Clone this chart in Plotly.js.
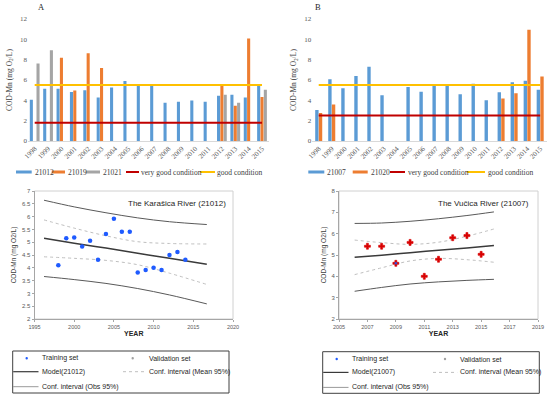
<!DOCTYPE html>
<html><head><meta charset="utf-8">
<script src="https://cdn.plot.ly/plotly-3.0.1.min.js"></script>
<style>html,body{margin:0;padding:0;background:#fff}#chart{width:550px;height:396px}</style>
</head><body><div id="chart"></div>
<script>
// ---------- DATA ----------
const years = ['1998','1999','2000','2001','2002','2003','2004','2005','2006','2007','2008','2009','2010','2011','2012','2013','2014','2015'];
// Panel A (Karašica stations)
const a21012 = [4.05,5.13,5.13,4.81,5.00,4.28,5.26,5.89,5.43,5.46,3.76,3.86,3.99,3.86,4.45,4.55,4.28,5.43];
const a21019 = [null,null,8.18,4.97,8.63,7.19,null,null,null,null,null,null,null,null,5.49,3.47,10.07,4.32];
const a21021 = [7.62,8.93,null,null,null,null,null,null,null,null,null,null,null,null,4.55,3.76,null,5.04];
const aVeryGood = 1.8, aGood = 5.5;
// Panel B (Vučica stations)
const b21007 = [3.04,6.08,5.20,6.40,7.30,4.50,null,5.30,4.84,5.43,5.43,4.60,5.62,4.00,4.80,5.79,5.92,5.04];
const b21020 = [2.75,3.60,null,null,null,null,null,null,null,null,null,null,null,null,4.19,4.70,10.95,6.34];
const bVeryGood = 2.5, bGood = 5.5;
// Panel C (Karašica model 21012)
const cYears = [1998,1999,2000,2001,2002,2003,2004,2005,2006,2007,2008,2009,2010,2011,2012,2013,2014];
const cValues = [4.10,5.15,5.18,4.83,5.06,4.31,5.32,5.92,5.41,5.41,3.82,3.91,4.00,3.91,4.50,4.62,4.31];
const cBandX = [1996.2,2000,2004,2008,2012,2016.7];
const cModel = [5.15,4.96,4.77,4.57,4.37,4.14];
const cObsUp = [6.64,6.38,6.15,5.95,5.80,5.69];
const cObsLo = [3.66,3.54,3.39,3.19,2.94,2.59];
const cMeanUp = [5.87,5.55,5.25,5.02,4.95,4.93];
const cMeanLo = [4.43,4.37,4.29,4.12,3.79,3.35];
// Panel D (Vučica model 21007)
const dYears = [2007,2008,2009,2010,2011,2012,2013,2014,2015];
const dValues = [5.41,5.41,4.61,5.59,4.00,4.80,5.81,5.91,5.03];
const dMarkedYears = [2009];
const dMarkedValues = [4.61];
const dBandX = [2006.1,2008,2010,2012,2014,2015.9];
const dModel = [4.89,4.99,5.11,5.22,5.33,5.44];
const dObsUp = [6.48,6.50,6.58,6.70,6.85,7.02];
const dObsLo = [3.30,3.48,3.64,3.74,3.81,3.86];
const dMeanUp = [5.70,5.58,5.50,5.60,5.88,6.22];
const dMeanLo = [4.08,4.40,4.72,4.84,4.78,4.66];

// ---------- STYLE ----------
const W = 550, H = 396;
const X = px => px / W;
const Y = py => 1 - py / H;
const BLUE = '#5B9BD5', ORANGE = '#ED7D31', GRAY = '#A5A5A5', RED = '#C00000', YELLOW = '#FFC000';
const SERIF = 'Liberation Serif, Times New Roman, serif';
const SANS = 'Liberation Sans, Arial, sans-serif';

const traces = [];
// Panel A bars
traces.push({type:'bar', x:years, y:a21012, name:'21012', marker:{color:BLUE}, width:0.23, offset:-0.365, xaxis:'x', yaxis:'y'});
traces.push({type:'bar', x:years, y:a21019, name:'21019', marker:{color:ORANGE}, width:0.23, offset:-0.115, xaxis:'x', yaxis:'y'});
traces.push({type:'bar', x:years, y:a21021, name:'21021', marker:{color:GRAY}, width:0.23, offset:0.135, xaxis:'x', yaxis:'y'});
traces.push({type:'scatter', mode:'lines', x:years, y:years.map(()=>aVeryGood), line:{color:RED, width:2}, xaxis:'x', yaxis:'y'});
traces.push({type:'scatter', mode:'lines', x:years, y:years.map(()=>aGood), line:{color:YELLOW, width:2}, xaxis:'x', yaxis:'y'});
// Panel B bars
traces.push({type:'bar', x:years, y:b21007, name:'21007', marker:{color:BLUE}, width:0.26, offset:-0.27, xaxis:'x2', yaxis:'y2'});
traces.push({type:'bar', x:years, y:b21020, name:'21020', marker:{color:ORANGE}, width:0.26, offset:0.01, xaxis:'x2', yaxis:'y2'});
traces.push({type:'scatter', mode:'lines', x:years, y:years.map(()=>bVeryGood), line:{color:RED, width:2}, xaxis:'x2', yaxis:'y2'});
traces.push({type:'scatter', mode:'lines', x:years, y:years.map(()=>bGood), line:{color:YELLOW, width:2}, xaxis:'x2', yaxis:'y2'});
// Panel C
const bandC = (y, line) => ({type:'scatter', mode:'lines', x:cBandX, y:y, line:Object.assign({shape:'spline'}, line), xaxis:'x3', yaxis:'y3'});
traces.push(bandC(cObsUp, {color:'#595959', width:1}));
traces.push(bandC(cObsLo, {color:'#595959', width:1}));
traces.push(bandC(cMeanUp, {color:'#BFBFBF', width:1, dash:'dot'}));
traces.push(bandC(cMeanLo, {color:'#BFBFBF', width:1, dash:'dot'}));
traces.push(bandC(cModel, {color:'#3A3A3A', width:1.5}));
traces.push({type:'scatter', mode:'markers', x:cYears, y:cValues, marker:{color:'#1F5BFF', size:4.5}, xaxis:'x3', yaxis:'y3'});
// Panel D
const bandD = (y, line) => ({type:'scatter', mode:'lines', x:dBandX, y:y, line:Object.assign({shape:'spline'}, line), xaxis:'x4', yaxis:'y4'});
traces.push(bandD(dObsUp, {color:'#595959', width:1}));
traces.push(bandD(dObsLo, {color:'#595959', width:1}));
traces.push(bandD(dMeanUp, {color:'#BFBFBF', width:1, dash:'dot'}));
traces.push(bandD(dMeanLo, {color:'#BFBFBF', width:1, dash:'dot'}));
traces.push(bandD(dModel, {color:'#3A3A3A', width:1.5}));
traces.push({type:'scatter', mode:'markers', x:dYears, y:dValues, marker:{color:'#D80000', size:5, symbol:'cross', line:{color:'#D80000', width:0.6}}, xaxis:'x4', yaxis:'y4'});
traces.push({type:'scatter', mode:'markers', x:dMarkedYears, y:dMarkedValues, marker:{color:'#3050E0', size:2.5}, xaxis:'x4', yaxis:'y4'});

// ---------- LAYOUT ----------
const tickSerif = {family:SERIF, size:7, color:'#595959'};
const tickSans = {family:SANS, size:5.5, color:'#595959'};
const barX = (dom) => ({domain:dom, type:'category', categoryorder:'array', categoryarray:years, tickangle:-45,
  tickfont:tickSerif, showline:true, linecolor:'#D9D9D9', linewidth:1, ticks:'', showgrid:false, zeroline:false, fixedrange:true});
const barY = (dom, anchor) => ({domain:dom, anchor:anchor, range:[0,12], dtick:2, tickfont:tickSerif, showgrid:false, zeroline:false, showline:false,
  title:{text:'COD-Mn (mg O<sub>2</sub>/L)', font:{family:SERIF, size:7.5, color:'#404040'}, standoff:6}, fixedrange:true});
const scX = (dom, range, tick0, dtick) => ({domain:dom, range:range, tick0:tick0, dtick:dtick, tickfont:tickSans, ticks:'outside', ticklen:2, tickcolor:'#A6A6A6',
  showline:true, linecolor:'#A6A6A6', linewidth:1, showgrid:false, zeroline:false,
  title:{text:'<b>YEAR</b>', font:{family:SANS, size:7, color:'#262626'}, standoff:2}, fixedrange:true});
const scY = (dom, range, dtick) => ({domain:dom, range:range, dtick:dtick, tickfont:{family:SANS, size:6, color:'#595959'}, ticks:'outside', ticklen:2, tickcolor:'#A6A6A6',
  showline:true, linecolor:'#A6A6A6', linewidth:1, showgrid:false, zeroline:false,
  title:{text:'COD-Mn (mg O2/L)', font:{family:SANS, size:6.5, color:'#404040'}, standoff:4}, fixedrange:true});

const layout = {
  width:W, height:H, autosize:false, margin:{l:0,r:0,t:0,b:0}, paper_bgcolor:'#fff', plot_bgcolor:'#fff',
  showlegend:false, barmode:'group',
  xaxis: Object.assign(barX([X(28), X(268.7)]), {anchor:'y'}),
  yaxis: barY([Y(141), Y(19)], 'x'),
  xaxis2: Object.assign(barX([X(312.2), X(546.7)]), {anchor:'y2'}),
  yaxis2: barY([Y(141), Y(19)], 'x2'),
  xaxis3: Object.assign(scX([X(34.5), X(233)], [1995,2020], 1995, 5), {anchor:'y3'}),
  yaxis3: Object.assign(scY([Y(319), Y(191)], [2,7], 0.5), {anchor:'x3'}),
  xaxis4: Object.assign(scX([X(339), X(538)], [2005,2019], 2005, 2), {anchor:'y4'}),
  yaxis4: Object.assign(scY([Y(319), Y(191)], [2,8], 1), {anchor:'x4'}),
  shapes: [], annotations: []
};

const S = layout.shapes, A = layout.annotations;
const txt = (x, y, text, font, anchor) => A.push({xref:'paper', yref:'paper', x:X(x), y:Y(y), text:text, showarrow:false,
  xanchor:anchor||'left', yanchor:'middle', font:font});
const rect = (x0, x1, y0, y1, color) => S.push({type:'rect', xref:'paper', yref:'paper', x0:X(x0), x1:X(x1), y0:Y(y0), y1:Y(y1), fillcolor:color, line:{width:0}});
const seg = (x0, x1, y, color, width, dash) => S.push({type:'line', xref:'paper', yref:'paper', x0:X(x0), x1:X(x1), y0:Y(y), y1:Y(y), line:{color:color, width:width, dash:dash||'solid'}});
const dot = (x, y, r, color) => S.push({type:'circle', xref:'paper', yref:'paper', x0:X(x-r), x1:X(x+r), y0:Y(y+r), y1:Y(y-r), fillcolor:color, line:{width:0}});
const box = (x0, x1, y0, y1, color) => S.push({type:'rect', xref:'paper', yref:'paper', x0:X(x0), x1:X(x1), y0:Y(y0), y1:Y(y1), line:{color:color, width:1}, fillcolor:'rgba(0,0,0,0)'});

// frames around scatter plot areas
S.push({type:'rect', xref:'x3 domain', yref:'y3 domain', x0:0, x1:1, y0:0, y1:1, line:{color:'#D0D0D0', width:1}, layer:'below'});
S.push({type:'rect', xref:'x4 domain', yref:'y4 domain', x0:0, x1:1, y0:0, y1:1, line:{color:'#D0D0D0', width:1}, layer:'below'});

// panel letters
const lf = {family:SERIF, size:8.5, color:'#262626'};
txt(41.7, 7, 'A', lf, 'center');
txt(318.3, 7, 'B', lf, 'center');

// bar legends
const legF = {family:SERIF, size:7.5, color:'#404040'};
const ly = 172;
rect(16, 31.7, ly-1.5, ly+1.5, BLUE); txt(32.5, ly, '21012', legF);
rect(51.7, 65, ly-1.5, ly+1.5, ORANGE); txt(65.8, ly, '21019', legF);
rect(85.7, 100, ly-1.5, ly+1.5, GRAY); txt(100.8, ly, '21021', legF);
seg(126, 139, ly, RED, 2); txt(139.3, ly, 'very good condition', legF);
seg(200, 215, ly, YELLOW, 2); txt(215.3, ly, 'good condition', legF);

rect(308.3, 324.3, ly-1.5, ly+1.5, BLUE); txt(325, ly, '21007', legF);
rect(352.7, 367.7, ly-1.5, ly+1.5, ORANGE); txt(368.5, ly, '21020', legF);
seg(390, 405, ly, RED, 2); txt(405.5, ly, 'very good condition', legF);
seg(466.7, 485, ly, YELLOW, 2); txt(485.5, ly, 'good condition', legF);

// scatter titles
const tF = {family:SANS, size:8, color:'#262626'};
txt(228, 203.3, 'The Karašica River (21012)', tF, 'right');
txt(531, 203.3, 'The Vučica River (21007)', tF, 'right');

// scatter legends
const sF = {family:SANS, size:7, color:'#262626'};
function scLegend(x0, x1, y0, y1, offs, model) {
  box(x0, x1, y0, y1, '#404040');
  const r1 = y0 + 7.3, r2 = y0 + 20.7, r3 = y0 + 35.7;
  dot(offs.m1, r1, 1.2, '#1F5BFF'); txt(offs.t1, r1, 'Training set', sF);
  dot(offs.m2, r1, 1.2, '#A0A0A0'); txt(offs.t2, r1, 'Validation set', sF);
  seg(x0+0.5, offs.t1-1.5, r2, '#3A3A3A', 1.2); txt(offs.t1, r2, model, sF);
  seg(offs.d0, offs.t2-0.5, r2, '#BFBFBF', 1, 'dot'); txt(offs.t2, r2, 'Conf. interval (Mean 95%)', sF);
  seg(x0+0.5, offs.t1-1.5, r3, '#7F7F7F', 0.8); txt(offs.t1, r3, 'Conf. interval (Obs 95%)', sF);
}
scLegend(12.7, 229, 351, 393, {m1:26.7, t1:40, m2:132.7, t2:147.3, d0:123}, 'Model(21012)');
scLegend(322.7, 539.3, 351.7, 393.3, {m1:336.7, t1:350, m2:445, t2:457.7, d0:433}, 'Model(21007)');

Plotly.newPlot('chart', traces, layout, {staticPlot:true, displayModeBar:false});
</script></body></html>
